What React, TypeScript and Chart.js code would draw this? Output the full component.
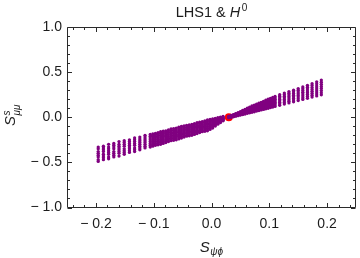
import React, { useEffect, useRef } from "react";
import { Chart, registerables } from "chart.js";

Chart.register(...registerables);

// Scan columns: x position of each column of points
const colX = [
  -0.196, -0.187, -0.178, -0.169, -0.16, -0.151, -0.142, -0.133, -0.124, -0.115,
  -0.106, -0.097, -0.088, -0.079, -0.07, -0.061, -0.052, -0.043, -0.034, -0.025,
  -0.016, -0.007, 0.002, 0.011, 0.02,
  0.03, 0.038, 0.046, 0.054, 0.062, 0.07, 0.078, 0.086, 0.094, 0.102,
  0.11, 0.118, 0.126, 0.134, 0.142, 0.15, 0.158, 0.166, 0.174, 0.182, 0.19,
  // denser columns in the central (merged) part of the band
  -0.1015, -0.0925, -0.0835, -0.0745, -0.0655, -0.0565, -0.0475, -0.0385, -0.0295,
  -0.0205, -0.0115, -0.0025, 0.0065, 0.0155,
  0.034, 0.042, 0.05, 0.058, 0.066, 0.074, 0.082, 0.09, 0.098, 0.106,
];

// y values of the points in each column (same order as colX)
const colY = [
  [-0.33, -0.35, -0.38, -0.4, -0.42, -0.44, -0.47, -0.49],
  [-0.32, -0.34, -0.36, -0.38, -0.41, -0.43, -0.45, -0.47],
  [-0.3, -0.33, -0.35, -0.37, -0.39, -0.41, -0.44, -0.46],
  [-0.29, -0.31, -0.33, -0.35, -0.38, -0.4, -0.42, -0.44],
  [-0.27, -0.3, -0.32, -0.34, -0.36, -0.38, -0.4, -0.43],
  [-0.26, -0.28, -0.3, -0.32, -0.35, -0.37, -0.39, -0.41],
  [-0.25, -0.27, -0.29, -0.31, -0.33, -0.35, -0.37, -0.39],
  [-0.23, -0.25, -0.27, -0.29, -0.31, -0.34, -0.36, -0.38],
  [-0.22, -0.24, -0.26, -0.28, -0.3, -0.32, -0.34, -0.36],
  [-0.2, -0.22, -0.24, -0.26, -0.28, -0.3, -0.32, -0.34],
  [-0.19, -0.21, -0.23, -0.25, -0.27, -0.29, -0.31, -0.33],
  [-0.18, -0.19, -0.21, -0.23, -0.25, -0.27, -0.29, -0.31],
  [-0.16, -0.18, -0.2, -0.22, -0.24, -0.26, -0.28, -0.3],
  [-0.15, -0.17, -0.18, -0.2, -0.22, -0.24, -0.26, -0.28],
  [-0.13, -0.15, -0.17, -0.19, -0.21, -0.23, -0.24, -0.26],
  [-0.12, -0.14, -0.16, -0.17, -0.19, -0.21, -0.23, -0.25],
  [-0.1, -0.12, -0.14, -0.16, -0.18, -0.19, -0.21, -0.23],
  [-0.09, -0.11, -0.13, -0.14, -0.16, -0.18, -0.2, -0.21],
  [-0.08, -0.09, -0.11, -0.13, -0.15, -0.16, -0.18, -0.2],
  [-0.06, -0.08, -0.1, -0.11, -0.13, -0.15, -0.16, -0.18],
  [-0.05, -0.06, -0.08, -0.1, -0.11, -0.13, -0.15, -0.16],
  [-0.03, -0.05, -0.07, -0.08, -0.1, -0.12, -0.13, -0.15],
  [-0.019, -0.033, -0.048, -0.062, -0.077, -0.091, -0.106, -0.12],
  [-0.005, -0.015, -0.026, -0.036, -0.046, -0.057, -0.067, -0.077],
  [0.009, 0.002, -0.005, -0.012, -0.019, -0.026, -0.033, -0.04],
  [0.01, 0.008, 0.006, 0.004, 0.001, -0.001, -0.003, -0.005],
  [0.03, 0.026, 0.023, 0.019, 0.016, 0.012, 0.009, 0.005],
  [0.05, 0.045, 0.041, 0.036, 0.032, 0.027, 0.023, 0.018],
  [0.075, 0.069, 0.062, 0.056, 0.049, 0.043, 0.036, 0.03],
  [0.1, 0.092, 0.084, 0.076, 0.067, 0.059, 0.051, 0.043],
  [0.125, 0.115, 0.105, 0.095, 0.085, 0.075, 0.065, 0.055],
  [0.145, 0.134, 0.123, 0.112, 0.101, 0.09, 0.079, 0.068],
  [0.165, 0.153, 0.141, 0.129, 0.117, 0.105, 0.093, 0.081],
  [0.19, 0.176, 0.163, 0.149, 0.135, 0.121, 0.108, 0.094],
  [0.21, 0.195, 0.181, 0.166, 0.151, 0.137, 0.122, 0.107],
  [0.23, 0.214, 0.199, 0.183, 0.167, 0.151, 0.136, 0.12],
  [0.25, 0.233, 0.217, 0.2, 0.183, 0.166, 0.15, 0.133],
  [0.268, 0.251, 0.233, 0.216, 0.198, 0.181, 0.163, 0.146],
  [0.285, 0.267, 0.249, 0.231, 0.213, 0.195, 0.177, 0.159],
  [0.3, 0.282, 0.263, 0.245, 0.227, 0.209, 0.19, 0.172],
  [0.318, 0.299, 0.28, 0.261, 0.242, 0.223, 0.204, 0.185],
  [0.336, 0.316, 0.296, 0.276, 0.257, 0.237, 0.217, 0.197],
  [0.354, 0.333, 0.313, 0.292, 0.272, 0.251, 0.231, 0.21],
  [0.372, 0.351, 0.329, 0.308, 0.287, 0.266, 0.244, 0.223],
  [0.392, 0.37, 0.347, 0.325, 0.303, 0.281, 0.258, 0.236],
  [0.412, 0.389, 0.365, 0.342, 0.319, 0.296, 0.272, 0.249],
  // central columns
  [-0.185, -0.2, -0.22, -0.24, -0.26, -0.28, -0.3, -0.32],
  [-0.17, -0.185, -0.205, -0.225, -0.245, -0.265, -0.285, -0.305],
  [-0.155, -0.175, -0.19, -0.21, -0.23, -0.25, -0.27, -0.29],
  [-0.14, -0.16, -0.175, -0.195, -0.215, -0.235, -0.25, -0.27],
  [-0.125, -0.145, -0.165, -0.18, -0.2, -0.22, -0.235, -0.255],
  [-0.11, -0.13, -0.15, -0.165, -0.185, -0.2, -0.22, -0.24],
  [-0.095, -0.115, -0.135, -0.15, -0.17, -0.185, -0.205, -0.22],
  [-0.085, -0.1, -0.12, -0.135, -0.155, -0.17, -0.19, -0.205],
  [-0.07, -0.085, -0.105, -0.12, -0.14, -0.155, -0.17, -0.19],
  [-0.055, -0.07, -0.09, -0.105, -0.12, -0.14, -0.155, -0.17],
  [-0.04, -0.055, -0.075, -0.09, -0.105, -0.125, -0.14, -0.155],
  [-0.025, -0.04, -0.058, -0.071, -0.088, -0.105, -0.118, -0.135],
  [-0.012, -0.024, -0.037, -0.049, -0.061, -0.074, -0.086, -0.098],
  [0.002, -0.006, -0.015, -0.024, -0.032, -0.041, -0.05, -0.058],
  [0.02, 0.017, 0.014, 0.011, 0.008, 0.006, 0.003, 0.0],
  [0.04, 0.036, 0.032, 0.028, 0.024, 0.02, 0.016, 0.012],
  [0.062, 0.057, 0.051, 0.046, 0.04, 0.035, 0.03, 0.024],
  [0.088, 0.08, 0.073, 0.066, 0.058, 0.051, 0.044, 0.036],
  [0.112, 0.103, 0.094, 0.085, 0.076, 0.067, 0.058, 0.049],
  [0.135, 0.124, 0.114, 0.103, 0.093, 0.082, 0.072, 0.061],
  [0.155, 0.143, 0.132, 0.12, 0.109, 0.097, 0.086, 0.074],
  [0.177, 0.164, 0.152, 0.139, 0.126, 0.113, 0.1, 0.087],
  [0.2, 0.185, 0.172, 0.157, 0.143, 0.129, 0.115, 0.1],
  [0.22, 0.204, 0.19, 0.174, 0.159, 0.144, 0.129, 0.113],
];

// Standard-model reference point
const smX = [0.03];
const smY = [0.0];

const xTickValues = [-0.2, -0.1, 0, 0.1, 0.2];
const xTickLabels = ["\u2212 0.2", "\u2212 0.1", "0.0", "0.1", "0.2"];
const yTickValues = [-1, -0.5, 0, 0.5, 1];
const yTickLabels = ["\u2212 1.0", "\u2212 0.5", "0.0", "0.5", "1.0"];
const xMinorTicks = [
  -0.24, -0.22, -0.18, -0.16, -0.14, -0.12, -0.08, -0.06, -0.04, -0.02,
  0.02, 0.04, 0.06, 0.08, 0.12, 0.14, 0.16, 0.18, 0.22, 0.24,
];
const yMinorTicks = [
  -0.9, -0.8, -0.7, -0.6, -0.4, -0.3, -0.2, -0.1, 0.1, 0.2, 0.3, 0.4, 0.6, 0.7, 0.8, 0.9,
];

const FONT = '"Liberation Sans", Arial, "DejaVu Sans", sans-serif';
const TEXT = "#1c1c1c";
const FRAME = "#2b2b2b";

const framePlugin = {
  id: "frameAndLabels",
  afterDraw(chart: any) {
    const { ctx, chartArea: a, scales } = chart;
    const xs = scales.x;
    const ys = scales.y;
    ctx.save();
    ctx.strokeStyle = FRAME;
    ctx.lineWidth = 1;
    const L = Math.round(a.left) + 0.5;
    const R = Math.round(a.right) - 0.5;
    const T = Math.round(a.top) + 0.5;
    const B = Math.round(a.bottom) - 0.5;
    ctx.beginPath();
    ctx.rect(L, T, R - L, B - T);
    ctx.stroke();

    const major = 4.5;
    const minor = 2.5;
    ctx.beginPath();
    const xTick = (v: number, len: number) => {
      const p = Math.round(xs.getPixelForValue(v)) + 0.5;
      ctx.moveTo(p, B);
      ctx.lineTo(p, B - len);
      ctx.moveTo(p, T);
      ctx.lineTo(p, T + len);
    };
    const yTick = (v: number, len: number) => {
      const p = Math.round(ys.getPixelForValue(v)) + 0.5;
      ctx.moveTo(L, p);
      ctx.lineTo(L + len, p);
      ctx.moveTo(R, p);
      ctx.lineTo(R - len, p);
    };
    xTickValues.forEach((v) => xTick(v, major));
    xMinorTicks.forEach((v) => xTick(v, minor));
    yTickValues.forEach((v) => yTick(v, major));
    yMinorTicks.forEach((v) => yTick(v, minor));
    ctx.stroke();

    ctx.fillStyle = TEXT;
    ctx.textBaseline = "alphabetic";
    ctx.textAlign = "left";

    // Title: LHS1 & H^0
    const cx = (a.left + a.right) / 2;
    const f1 = `14.5px ${FONT}`;
    const f1i = `italic 14.5px ${FONT}`;
    const fsup = `10px ${FONT}`;
    ctx.font = f1;
    const w1 = ctx.measureText("LHS1 & ").width;
    ctx.font = f1i;
    const w2 = ctx.measureText("H").width;
    ctx.font = fsup;
    const w3 = ctx.measureText("0").width;
    let tx = cx - (w1 + w2 + 1.5 + w3) / 2;
    const tb = 17;
    ctx.font = f1;
    ctx.fillText("LHS1 & ", tx, tb);
    tx += w1;
    ctx.font = f1i;
    ctx.fillText("H", tx, tb);
    tx += w2 + 1.5;
    ctx.font = fsup;
    ctx.fillText("0", tx, tb - 6);

    // X axis title: S_{ψϕ}
    const fS = `italic 15px ${FONT}`;
    const fsub = `italic 10px ${FONT}`;
    ctx.font = fS;
    const sw = ctx.measureText("S").width;
    ctx.font = fsub;
    const subw = ctx.measureText("\u03c8\u03d5").width;
    let ax = cx - (sw + 0.5 + subw) / 2;
    const ab = 252;
    ctx.font = fS;
    ctx.fillText("S", ax, ab);
    ax += sw + 0.5;
    ctx.font = fsub;
    ctx.fillText("\u03c8\u03d5", ax, ab + 3);

    // Y axis title: S^s_{μμ}, rotated
    ctx.save();
    ctx.translate(15, 126);
    ctx.rotate(-Math.PI / 2);
    ctx.font = fS;
    const yw = ctx.measureText("S").width;
    ctx.fillText("S", 0, 0);
    ctx.font = `italic 10px ${FONT}`;
    ctx.fillText("s", yw + 0.5, -5);
    ctx.fillText("\u03bc\u03bc", yw + 0.5, 4.5);
    ctx.restore();

    ctx.restore();
  },
};

export default function App() {
  const ref = useRef<HTMLCanvasElement | null>(null);

  useEffect(() => {
    if (!ref.current) return;
    const scanPoints = colX.flatMap((x, i) => colY[i].map((y) => ({ x, y })));
    const smPoints = smX.map((x, i) => ({ x, y: smY[i] }));
    const tickFont = { family: FONT, size: 14 };
    const chart = new Chart(ref.current, {
      type: "scatter",
      data: {
        datasets: [
          {
            data: scanPoints,
            backgroundColor: "#800080",
            borderWidth: 0,
            pointRadius: 1.65,
            pointHoverRadius: 1.65,
          },
          {
            data: smPoints,
            backgroundColor: "#ff0000",
            borderWidth: 0,
            pointRadius: 4,
            pointHoverRadius: 4,
          },
        ],
      },
      options: {
        responsive: false,
        animation: false,
        devicePixelRatio: 1,
        layout: { padding: { top: 27, right: 1, left: 0, bottom: 0 } },
        plugins: {
          legend: { display: false },
          title: { display: false },
          tooltip: { enabled: false },
        },
        events: [],
        scales: {
          x: {
            type: "linear",
            min: -0.25,
            max: 0.25,
            grid: { display: false, drawTicks: false },
            border: { display: false },
            afterBuildTicks: (s: any) => {
              s.ticks = xTickValues.map((v) => ({ value: v }));
            },
            afterFit: (s: any) => {
              s.height = 50.5;
            },
            ticks: {
              autoSkip: false,
              maxRotation: 0,
              padding: 8,
              color: TEXT,
              font: tickFont,
              callback: (_v: any, i: number) => xTickLabels[i],
            },
          },
          y: {
            type: "linear",
            min: -1,
            max: 1,
            grid: { display: false, drawTicks: false },
            border: { display: false },
            afterBuildTicks: (s: any) => {
              s.ticks = yTickValues.map((v) => ({ value: v }));
            },
            afterFit: (s: any) => {
              s.width = 67;
            },
            ticks: {
              autoSkip: false,
              padding: 5,
              color: TEXT,
              font: tickFont,
              callback: (_v: any, i: number) => yTickLabels[i],
            },
          },
        },
      },
      plugins: [framePlugin],
    });
    return () => chart.destroy();
  }, []);

  return (
    <div style={{ position: "absolute", left: 0, top: 0, width: 360, height: 258, background: "#fff" }}>
      <canvas ref={ref} width={360} height={258} style={{ display: "block" }} />
    </div>
  );
}
